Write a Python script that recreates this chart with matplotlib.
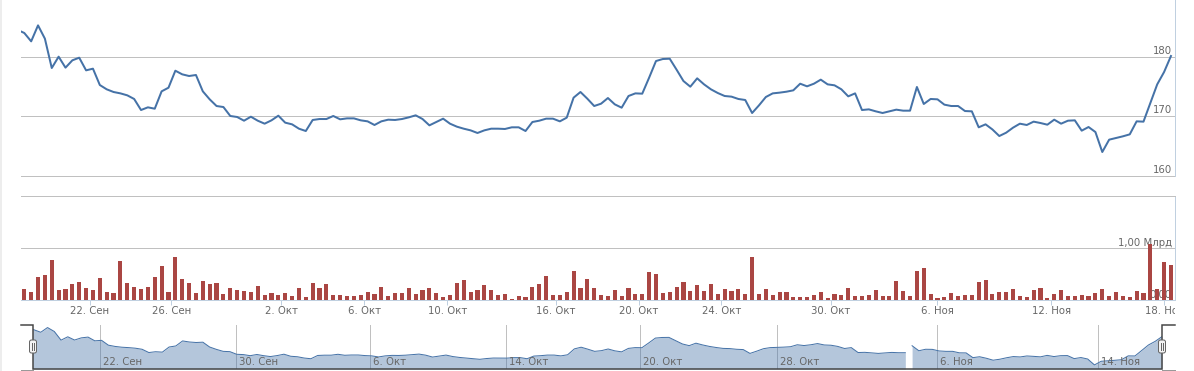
import numpy as np
import matplotlib.pyplot as plt
from matplotlib.patches import FancyBboxPatch
from matplotlib.transforms import blended_transform_factory, offset_copy

W, H = 1194, 371

# цена, по точкам (первая точка левее видимой области)
price = [184.5,
         183.97, 182.57, 185.25, 183.02, 178.10, 180.00, 178.16, 179.39, 179.83, 177.71,
         177.99, 175.25, 174.53, 174.08, 173.85, 173.52, 172.91, 171.06, 171.51, 171.28,
         174.19, 174.80, 177.65, 177.04, 176.76, 176.93, 174.19, 172.85, 171.73, 171.56,
         170.06, 169.89, 169.27, 169.94, 169.27, 168.77, 169.33, 170.11, 168.94, 168.66,
         167.93, 167.54, 169.39, 169.55, 169.55, 170.06, 169.50, 169.66, 169.66, 169.33,
         169.16, 168.55, 169.16, 169.44, 169.39, 169.55, 169.83, 170.17, 169.55, 168.49,
         169.05, 169.61, 168.77, 168.27, 167.93, 167.65, 167.21, 167.65, 167.93, 167.93,
         167.88, 168.16, 168.16, 167.54, 169.05, 169.27, 169.61, 169.61, 169.16, 169.78,
         173.13, 174.08, 172.96, 171.73, 172.12, 173.07, 172.01, 171.45, 173.41, 173.85,
         173.80, 176.48, 179.27, 179.61, 179.66, 177.82, 175.92, 174.97, 176.37, 175.36,
         174.53, 173.91, 173.41, 173.30, 172.91, 172.74, 170.56, 171.84, 173.24, 173.85,
         173.97, 174.13, 174.36, 175.47, 175.03, 175.47, 176.15, 175.36, 175.20, 174.53,
         173.35, 173.85, 171.06, 171.17, 170.84, 170.56, 170.84, 171.12, 170.95, 170.95,
         174.92, 172.07, 172.91, 172.85, 171.96, 171.73, 171.73, 170.89, 170.84, 168.16,
         168.66, 167.80, 166.70, 167.26, 168.10, 168.77, 168.55, 169.11, 168.88, 168.60,
         169.44, 168.77, 169.27, 169.33, 167.60, 168.21, 167.37, 164.02, 166.09, 166.37,
         166.65, 166.98, 169.16, 169.11, 172.23, 175.36, 177.43, 180.11]

# объём, млн
volume = [250,
          212, 154, 442, 481, 769, 192, 212, 308, 346, 231, 192, 423, 154, 135, 750, 327,
          250, 212, 250, 442, 654, 154, 827, 404, 327, 135, 365, 308, 327, 115, 231, 192,
          173, 154, 269, 96, 135, 96, 135, 77, 231, 58, 327, 231, 308, 96, 96, 77, 77, 96,
          154, 115, 250, 77, 135,
          135, 231, 115, 192, 231, 135, 58, 96, 327, 385, 154, 192, 288, 192, 96, 115, 19,
          77, 58, 250, 308, 462, 96, 96, 154, 558, 231, 404, 231, 96, 77, 192, 77, 231, 115,
          115, 538, 500, 135, 154, 250, 346, 173, 288, 173, 308, 115, 212, 173, 212, 115,
          827, 115, 212, 96, 154, 154, 58,
          58, 58, 96, 154, 38, 115, 96, 231, 77, 77, 96, 192, 77, 77, 365, 173, 77, 558, 615,
          115, 38, 58, 135, 77, 96, 96, 346, 385, 115, 154, 154, 212, 77, 58, 192, 231, 38,
          115, 192, 77, 77, 96, 77, 135, 212, 77, 154, 77, 58, 173, 135, 1077, 212, 731, 673]

main_ticks = [9.57, 21.4, 37.4, 49.5, 61.6, 77.4, 89.5, 101.5, 117.5, 133.0, 149.6, 166.0]
main_labels = ['22. Сен', '26. Сен', '2. Окт', '6. Окт', '10. Окт', '16. Окт',
               '20. Окт', '24. Окт', '30. Окт', '6. Ноя', '12. Ноя', '18. Ноя']
nav_ticks = [9.77, 29.9, 49.7, 69.9, 89.7, 110.0, 133.7, 157.5]
nav_labels = ['22. Сен', '30. Сен', '6. Окт', '14. Окт', '20. Окт', '28. Окт',
              '6. Ноя', '14. Ноя']
nav_break = 130  # разрыв в навигаторе перед этой точкой

price_ticks = [160, 170, 180]
price_tick_labels = ['160', '170', '180']
vol_ticks = [0, 1000]
vol_tick_labels = ['0,00', '1,00 Млрд']

idx = np.arange(len(price)) - 1
price = np.array(price)
volume = np.array(volume)

LINE = '#4572A7'
BAR = '#AA4643'
GRID = '#C0C0C0'
AXIS = '#C0D0E0'
TXT = '#666666'
FS = 7.3
px = 0.72  # 1 px в пунктах

plt.rcParams['font.family'] = ['DejaVu Sans']

fig = plt.figure(figsize=(W / 100, H / 100), dpi=100)


def rect(l, t, r, b):
    return [l / W, 1 - b / H, (r - l) / W, (b - t) / H]


def clean(ax):
    for s in ax.spines.values():
        s.set_visible(False)
    ax.set_xticks([])
    ax.set_yticks([])


xlim = (-0.48, 167.59)

# --- цена ---
ax_p = fig.add_axes(rect(21, 0, 1175, 176))
clean(ax_p)
ax_p.set_xlim(*xlim)
ax_p.set_ylim(160, 189.5)
for v in price_ticks:
    ax_p.axhline(v, color=GRID, lw=px, clip_on=False, zorder=1)
ax_p.spines['right'].set_visible(True)
ax_p.spines['right'].set_color(AXIS)
ax_p.spines['right'].set_linewidth(px)
ax_p.plot(idx, price, color=LINE, lw=2 * px, zorder=3, solid_joinstyle='round')
tr = offset_copy(blended_transform_factory(ax_p.transAxes, ax_p.transData),
                 fig=fig, x=-3, y=3, units='dots')
for v, s in zip(price_ticks, price_tick_labels):
    ax_p.text(1.0, v, s, transform=tr, ha='right', va='baseline', fontsize=FS, color=TXT)

# --- объём ---
ax_v = fig.add_axes(rect(21, 196, 1175, 300))
clean(ax_v)
ax_v.set_xlim(*xlim)
ax_v.set_ylim(0, 2000)
ax_v.axhline(1000, color=GRID, lw=px, zorder=1)
ax_v.spines['top'].set_visible(True)
ax_v.spines['top'].set_color(GRID)
ax_v.spines['top'].set_linewidth(px)
ax_v.spines['right'].set_visible(True)
ax_v.spines['right'].set_color(AXIS)
ax_v.spines['right'].set_linewidth(px)
ax_v.spines['bottom'].set_visible(True)
ax_v.spines['bottom'].set_color(AXIS)
ax_v.spines['bottom'].set_linewidth(px)
trv = offset_copy(blended_transform_factory(ax_v.transAxes, ax_v.transData),
                  fig=fig, x=-3, y=2, units='dots')
for v, s in zip(vol_ticks, vol_tick_labels):
    ax_v.text(1.0, v, s, transform=trv, ha='right', va='baseline', fontsize=FS,
              color=TXT, zorder=2)
ax_v.bar(idx, volume, width=0.6, color=BAR, zorder=3)
ax_v.set_xticks(main_ticks)
ax_v.tick_params(axis='x', length=5 * px, width=px, color=AXIS, direction='out',
                 labelbottom=False)

# подписи дат (обрезаются по правому краю)
ax_l = fig.add_axes(rect(21, 300, 1175, 324))
ax_l.set_axis_off()
ax_l.set_xlim(*xlim)
ax_l.set_ylim(324, 300)
for t, s in zip(main_ticks, main_labels):
    ax_l.text(t, 314, s, ha='center', va='baseline', fontsize=FS, color=TXT, clip_on=True)

# --- навигатор ---
ax_n = fig.add_axes(rect(33, 325, 1162, 369))
clean(ax_n)
ax_n.set_xlim(-0.15, 167)
ax_n.set_ylim(161.7, 186.7)
for t in nav_ticks:
    ax_n.axvline(t, color=GRID, lw=px, zorder=1)
for seg in (idx < nav_break, idx >= nav_break):
    ax_n.fill_between(idx[seg], price[seg], 161.7, color=LINE, alpha=0.4, lw=0, zorder=2)
    ax_n.plot(idx[seg], price[seg], color=LINE, lw=px, zorder=3)
trn = offset_copy(blended_transform_factory(ax_n.transData, ax_n.transAxes),
                  fig=fig, x=3, y=0, units='dots')
for t, s in zip(nav_ticks, nav_labels):
    ax_n.text(t, 0.08, s, transform=trn, ha='left', va='baseline', fontsize=FS,
              color=TXT, zorder=4)

# рамка навигатора, ручки, левая граница страницы
ov = fig.add_axes([0, 0, 1, 1])
ov.set_axis_off()
ov.set_xlim(0, W)
ov.set_ylim(H, 0)
ov.plot([1, 1], [0, H], color='#EDEDED', lw=2 * px)
ov.plot([21, 33], [370, 370], color='#999999', lw=px)
ov.plot([1162, 1175], [370, 370], color='#999999', lw=px)
ov.plot([21, 33, 33, 1162, 1162, 1175], [325, 325, 369, 369, 325, 325],
        color='#444444', lw=1.5 * px, solid_joinstyle='miter')
for hx in (33, 1162):
    ov.add_patch(FancyBboxPatch((hx - 3.5, 340), 7, 13, boxstyle='round,pad=0,rounding_size=2',
                                fc='#F4F4F4', ec='#666666', lw=px, zorder=5))
    ov.plot([hx - 1, hx - 1], [343, 350], color='#666666', lw=px, zorder=6)
    ov.plot([hx + 1, hx + 1], [343, 350], color='#666666', lw=px, zorder=6)

fig.savefig('out.png', dpi=100)
